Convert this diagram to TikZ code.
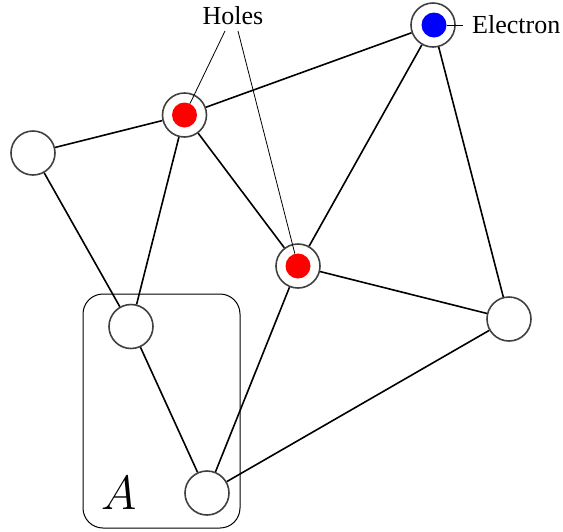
\documentclass[tikz,border=0pt]{standalone}
\usepackage{fontspec}
\setmainfont{Liberation Serif}
\begin{document}
\begin{tikzpicture}[x=1pt,y=-1pt,
  site/.style={circle,draw=black!75,line width=1.6pt,minimum size=44pt,inner sep=0pt,fill=white},
  dot/.style={circle,inner sep=0pt,minimum size=25pt},
  edge/.style={line width=1.6pt,black},
  lbl/.style={line width=0.8pt,black},
  txt/.style={inner sep=0pt,font=\fontsize{26}{30}\selectfont}]
\useasboundingbox (0,0) rectangle (563,531);
\draw[line width=1pt,rounded corners=20pt] (83,294) rectangle (240,528);
\node[site] (e) at (433,25) {};
\node[site] (h1) at (184.5,115) {};
\node[site] (l) at (33,153) {};
\node[site] (h2) at (298,266) {};
\node[site] (r) at (509,319) {};
\node[site] (a1) at (131,326.5) {};
\node[site] (a2) at (207,493) {};
\node[dot,fill=blue] (ed) at (434,25) {};
\node[dot,fill=red] (h1d) at (184.5,115) {};
\node[dot,fill=red] (h2d) at (298,266) {};
\draw[edge] (l) -- (h1);
\draw[edge] (h1) -- (e);
\draw[edge] (h1) -- (h2);
\draw[edge] (h1) -- (a1);
\draw[edge] (l) -- (a1);
\draw[edge] (e) -- (h2);
\draw[edge] (e) -- (r);
\draw[edge] (h2) -- (r);
\draw[edge] (h2) -- (a2);
\draw[edge] (a1) -- (a2);
\draw[edge] (a2) -- (r);
\node[txt] (holes) at (233,16) {Holes};
\coordinate (hl1) at (225,31);
\coordinate (hl2) at (238,31);
\draw[lbl] (hl1) -- (h1d);
\draw[lbl] (hl2) -- (h2d);
\node[txt,anchor=west] (elab) at (472,25) {Electron};
\coordinate (el) at (463,25);
\draw[lbl] (ed) -- (el);
\node[inner sep=0pt,scale=1.93] (alab) at (119,493) {\Huge $A$};
\end{tikzpicture}
\end{document}
